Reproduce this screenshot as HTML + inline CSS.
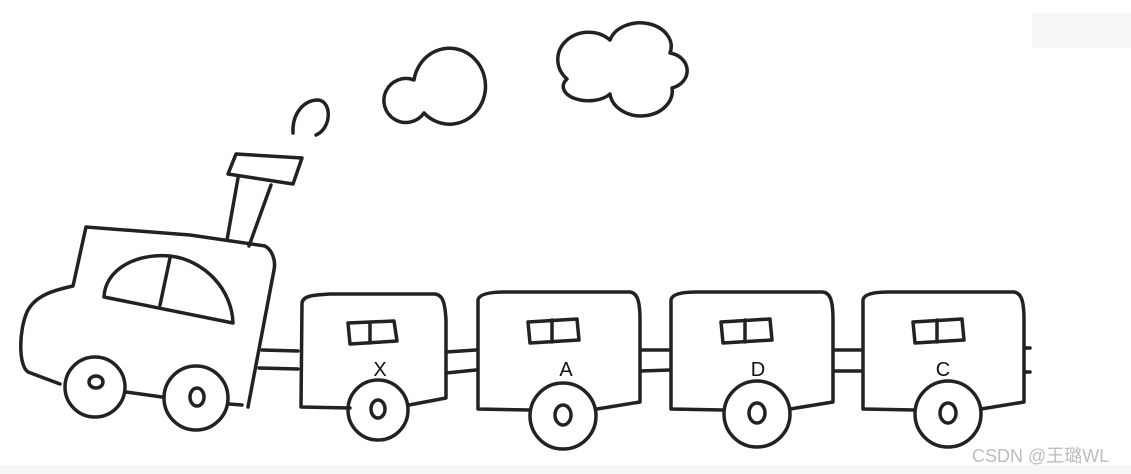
<!DOCTYPE html>
<html><head><meta charset="utf-8"><style>
html,body{margin:0;padding:0;background:#fff;}
body{width:1131px;height:474px;position:relative;overflow:hidden;}
svg{position:absolute;left:0;top:0;}
.wm{position:absolute;left:972px;top:442px;font:18px "Liberation Sans","Noto Sans CJK SC",sans-serif;color:#bdbdbd;}
</style></head><body>
<svg width="1131" height="474" viewBox="0 0 1131 474">
<rect x="1032" y="14" width="99" height="34" fill="#f6f6f8"/>
<rect x="0" y="465" width="1131" height="9" fill="#f7f7f7"/>
<g fill="none" stroke="#222" stroke-width="3.5" stroke-linecap="round" stroke-linejoin="round">
<path d="M293,133 C292,112 305,100 318,100 C332,101 332,128 316,135"/>
<path d="M414,80 A36,38 0 1 1 424,113 A22,22 0 1 1 414,80 Z"/>
<path d="M610,40 A29,22 0 0 1 670,53 A21,18 0 0 1 672,88 A30,24 0 0 1 610,94 A23,13 0 0 1 567,79 A27,24 0 0 1 610,40 Z"/>
<path d="M236,154 L302,158 L293,184 L228,174 Z"/>
<path d="M238,178 L227,240"/>
<path d="M271,185 L249,246"/>
<path d="M60,384 L28,372 C18,365 19,330 27,312 C35,295 55,290 73,286 L86,227 L190,235 L265,246 C272,250 276,260 274,270 L248,407"/>
<path d="M126,392 L162,397"/>
<path d="M229,404 L242,405"/>
<path d="M104,297 C105,270 135,253 170,256 C205,260 232,290 233,323 L104,297 Z"/>
<path d="M170,258 L160,305"/>
<circle cx="95" cy="387" r="30"/>
<ellipse cx="96" cy="382" rx="7" ry="6"/>
<circle cx="196" cy="398" r="32"/>
<ellipse cx="197" cy="397" rx="7" ry="9"/>
<path d="M262,350 L298,351 M259,368 L298,369"/>
<path d="M446,352 L476,350 M446,373 L476,370"/>
<path d="M641,350 L670,350 M641,371 L670,370"/>
<path d="M834,350 L862,350 M834,371 L862,371"/>
<path d="M1026,348 L1030,348 M1026,372 L1030,372"/>
<path d="M350,408 L301,407 L302,303 C303,296 312,295 330,294 L435,294 C443,295 445,303 446,320 L446,398 L409,405"/>
<path d="M348,323 L394,321 L397,341 L350,344 Z M370,322 L370,343"/>
<circle cx="378" cy="410" r="30"/>
<ellipse cx="378" cy="409" rx="7" ry="9"/>
<path d="M530,410 L478,409 L478,300 C479,294 490,292 505,292 L630,292 C637,293 640,300 640,320 L640,402 L597,409"/>
<path d="M528,322 L577,319 L579,340 L530,343 Z M552,320 L552,342"/>
<circle cx="563" cy="416" r="33"/>
<ellipse cx="563" cy="415" rx="8" ry="10"/>
<path d="M723,410 L671,409 L671,300 C672,294 682,292 697,292 L823,292 C830,293 833,300 833,320 L833,402 L790,409"/>
<path d="M721,322 L770,319 L772,340 L723,343 Z M745,320 L745,342"/>
<circle cx="757" cy="414" r="33"/>
<ellipse cx="757" cy="413" rx="8" ry="10"/>
<path d="M915,410 L863,409 L863,300 C864,294 874,292 889,292 L1014,292 C1021,293 1024,300 1024,320 L1024,402 L981,409"/>
<path d="M913,322 L962,319 L964,340 L915,343 Z M937,320 L937,342"/>
<circle cx="948" cy="414" r="33"/>
<ellipse cx="948" cy="413" rx="8" ry="10"/>
</g>
<g font-family="Liberation Sans, sans-serif" font-size="20" fill="#111" text-anchor="middle">
<text x="380" y="376">X</text>
<text x="566" y="376">A</text>
<text x="758" y="376">D</text>
<text x="943" y="376">C</text>
</g>
</svg>
<div class="wm">CSDN @王璐WL</div>
</body></html>
